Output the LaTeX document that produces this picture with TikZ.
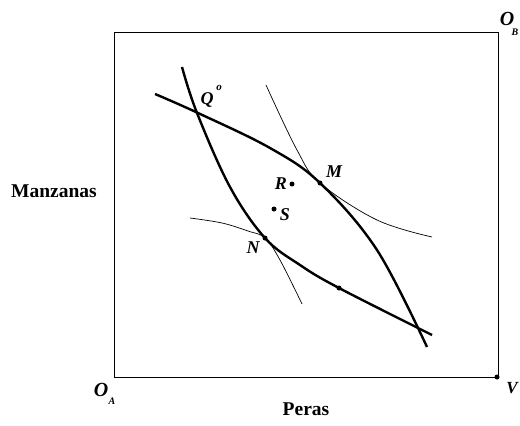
\documentclass[tikz,border=0pt]{standalone}
\usepackage{fontspec}
\setmainfont{Liberation Serif}
\begin{document}
\begin{tikzpicture}[x=1pt,y=-1pt,
  thick curve/.style={line width=2.4pt, line join=round},
  thin curve/.style={line width=0.7pt},
  lbl/.style={font=\fontsize{18}{18}\selectfont\bfseries\itshape, inner sep=0pt},
  axis lbl/.style={font=\fontsize{19.5}{19.5}\selectfont\bfseries, inner sep=0pt},
  pt/.style={circle, fill=black, inner sep=0pt, minimum size=5pt}]
\useasboundingbox (0,0) rectangle (520,426);
\draw[line width=0.9pt] (114,32) rectangle (498,377);
% offer curves
\draw[thick curve] plot[smooth, tension=0.6] coordinates {(155,94) (198,113) (270,148) (320,183) (377,250) (427,347)};
\draw[thick curve] plot[smooth, tension=0.6] coordinates {(182,67) (197,113) (230,187) (265,238) (300,265) (339,288) (432,335)};
% indifference curves
\draw[thin curve] plot[smooth, tension=0.6] coordinates {(266,85) (297,150) (320,183) (377,220) (432,237)};
\draw[thin curve] plot[smooth, tension=0.6] coordinates {(190,218) (222,223) (248,231) (265,238) (280,260) (302,304)};
% points
\node[pt] (M) at (320,183) {};
\node[pt] (N) at (265,238) {};
\node[pt] (R) at (292,184) {};
\node[pt] (S) at (274,209) {};
\node[pt] (D) at (339,288) {};
\node[pt] (V) at (497,377) {};
% labels
\node[lbl] (lQ) at (207,100) {Q};
\node[lbl, font=\fontsize{11}{11}\selectfont\bfseries\itshape] (lQo) at (219,88) {o};
\node[lbl] (lM) at (334,172) {M};
\node[lbl] (lR) at (281,184) {R};
\node[lbl] (lS) at (285,215) {S};
\node[lbl] (lN) at (253,248) {N};
\node[lbl, font=\fontsize{17}{17}\selectfont\bfseries\itshape] (lV) at (512,388) {V};
\node[lbl, font=\fontsize{20}{20}\selectfont\bfseries\itshape] (OA) at (101,390) {O};
\node[lbl, font=\fontsize{10}{10}\selectfont\bfseries\itshape] (OAs) at (112,401) {A};
\node[lbl, font=\fontsize{20}{20}\selectfont\bfseries\itshape] (OB) at (507,19) {O};
\node[lbl, font=\fontsize{10}{10}\selectfont\bfseries\itshape] (OBs) at (515,32) {B};
\node[axis lbl] (man) at (54,191) {Manzanas};
\node[axis lbl] (per) at (306,409) {Peras};
\end{tikzpicture}
\end{document}
